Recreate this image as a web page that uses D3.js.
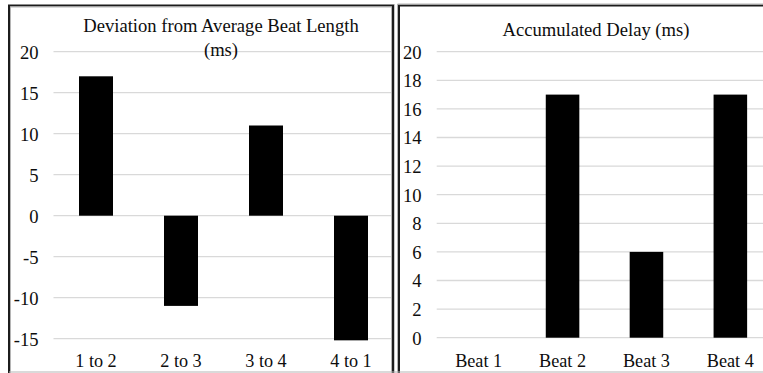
<!DOCTYPE html>
<html>
<head>
<meta charset="utf-8">
<script src="https://cdn.jsdelivr.net/npm/d3@7"></script>
<style>
  html, body { margin: 0; padding: 0; background: #fff; }
  svg { display: block; }
  text { font-family: "Liberation Serif", "Times New Roman", serif; fill: #0d0d0d; }
</style>
</head>
<body>
<svg id="chart" width="763" height="373"></svg>
<script>
// Beat-to-beat deviation from the average beat length (ms)
const deviationCategories = ["1 to 2", "2 to 3", "3 to 4", "4 to 1"];
const deviationValues = [17, -11, 11, -15.2];
const deviationTicks = [20, 15, 10, 5, 0, -5, -10, -15];

// Delay accumulated at each beat (ms)
const delayCategories = ["Beat 1", "Beat 2", "Beat 3", "Beat 4"];
const delayValues = [0, 17, 6, 17];
const delayTicks = [20, 18, 16, 14, 12, 10, 8, 6, 4, 2, 0];

const svg = d3.select("#chart");
const FONT = 18.6;

function panel(cfg) {
  const g = svg.append("g");
  const clipId = "clip-" + cfg.id;
  svg.append("defs").append("clipPath").attr("id", clipId)
    .append("rect")
    .attr("x", cfg.clip[0]).attr("y", 0)
    .attr("width", cfg.clip[1] - cfg.clip[0]).attr("height", 373);

  const x = d3.scaleBand()
    .domain(cfg.categories)
    .range(cfg.xRange)
    .paddingInner(0.6)
    .paddingOuter(0.3);

  const y = d3.scaleLinear()
    .domain(cfg.yDomain)
    .range(cfg.yRange);

  const plot = g.append("g").attr("clip-path", `url(#${clipId})`);

  // horizontal gridlines
  plot.selectAll("line.grid")
    .data(cfg.ticks)
    .join("line")
    .attr("class", "grid")
    .attr("x1", cfg.xRange[0])
    .attr("x2", cfg.xRange[1])
    .attr("y1", d => y(d))
    .attr("y2", d => y(d))
    .attr("stroke", "#d9d9d9")
    .attr("stroke-width", 1.3);

  // bars
  plot.selectAll("rect.bar")
    .data(cfg.values.map((v, i) => ({ c: cfg.categories[i], v })))
    .join("rect")
    .attr("class", "bar")
    .attr("x", d => x(d.c))
    .attr("width", x.bandwidth())
    .attr("y", d => y(Math.max(0, d.v)))
    .attr("height", d => Math.abs(y(d.v) - y(0)))
    .attr("fill", "#000");

  // y tick labels
  g.selectAll("text.ytick")
    .data(cfg.ticks)
    .join("text")
    .attr("class", "ytick")
    .attr("x", cfg.tickX)
    .attr("y", d => y(d) + cfg.tickDy)
    .attr("text-anchor", "end")
    .attr("font-size", FONT)
    .text(d => d);

  // category labels
  g.selectAll("text.xcat")
    .data(cfg.categories)
    .join("text")
    .attr("class", "xcat")
    .attr("x", d => x(d) + x.bandwidth() / 2)
    .attr("y", 366.5)
    .attr("text-anchor", "middle")
    .attr("font-size", 18.2)
    .text(d => d);

  // title
  cfg.title.forEach((line, i) => {
    g.append("text")
      .attr("x", cfg.titleX)
      .attr("y", cfg.titleY + i * 23.2)
      .attr("text-anchor", "middle")
      .attr("font-size", FONT)
      .text(line);
  });
}

panel({
  id: "dev",
  categories: deviationCategories,
  values: deviationValues,
  ticks: deviationTicks,
  xRange: [53.5, 393.5],
  clip: [10, 392],
  yDomain: [-15, 20],
  yRange: [338.7, 51.7],
  tickX: 38.5,
  tickDy: 7.4,
  title: ["Deviation from Average Beat Length", "(ms)"],
  titleX: 221,
  titleY: 32.3
});

panel({
  id: "delay",
  categories: delayCategories,
  values: delayValues,
  ticks: delayTicks,
  xRange: [436.7, 772.3],
  clip: [400, 763],
  yDomain: [0, 20],
  yRange: [337.7, 51.7],
  tickX: 421.5,
  tickDy: 6.8,
  title: ["Accumulated Delay (ms)"],
  titleX: 596,
  titleY: 35.7
});

// panel frames: dark edge with a faint grey shadow line
const frames = svg.append("g").attr("fill", "none");
// left panel
frames.append("path")
  .attr("d", "M9,373 V5.5 H393 V373")
  .attr("stroke", "#1c1c1c").attr("stroke-width", 2);
frames.append("path")
  .attr("d", "M10.5,373 V7 H391.5 V373")
  .attr("stroke", "#b5b5b5").attr("stroke-width", 1);
// right panel
frames.append("path")
  .attr("d", "M399,373 V5.5 H763")
  .attr("stroke", "#1c1c1c").attr("stroke-width", 2);
frames.append("path")
  .attr("d", "M397.5,373 V4 H763")
  .attr("stroke", "#b5b5b5").attr("stroke-width", 1);
frames.append("path")
  .attr("d", "M394.5,373 V4")
  .attr("stroke", "#c8c8c8").attr("stroke-width", 1);
// bottom edge
frames.append("line")
  .attr("x1", 9).attr("x2", 763).attr("y1", 372).attr("y2", 372)
  .attr("stroke", "#b5b5b5").attr("stroke-width", 1);
</script>
</body>
</html>
